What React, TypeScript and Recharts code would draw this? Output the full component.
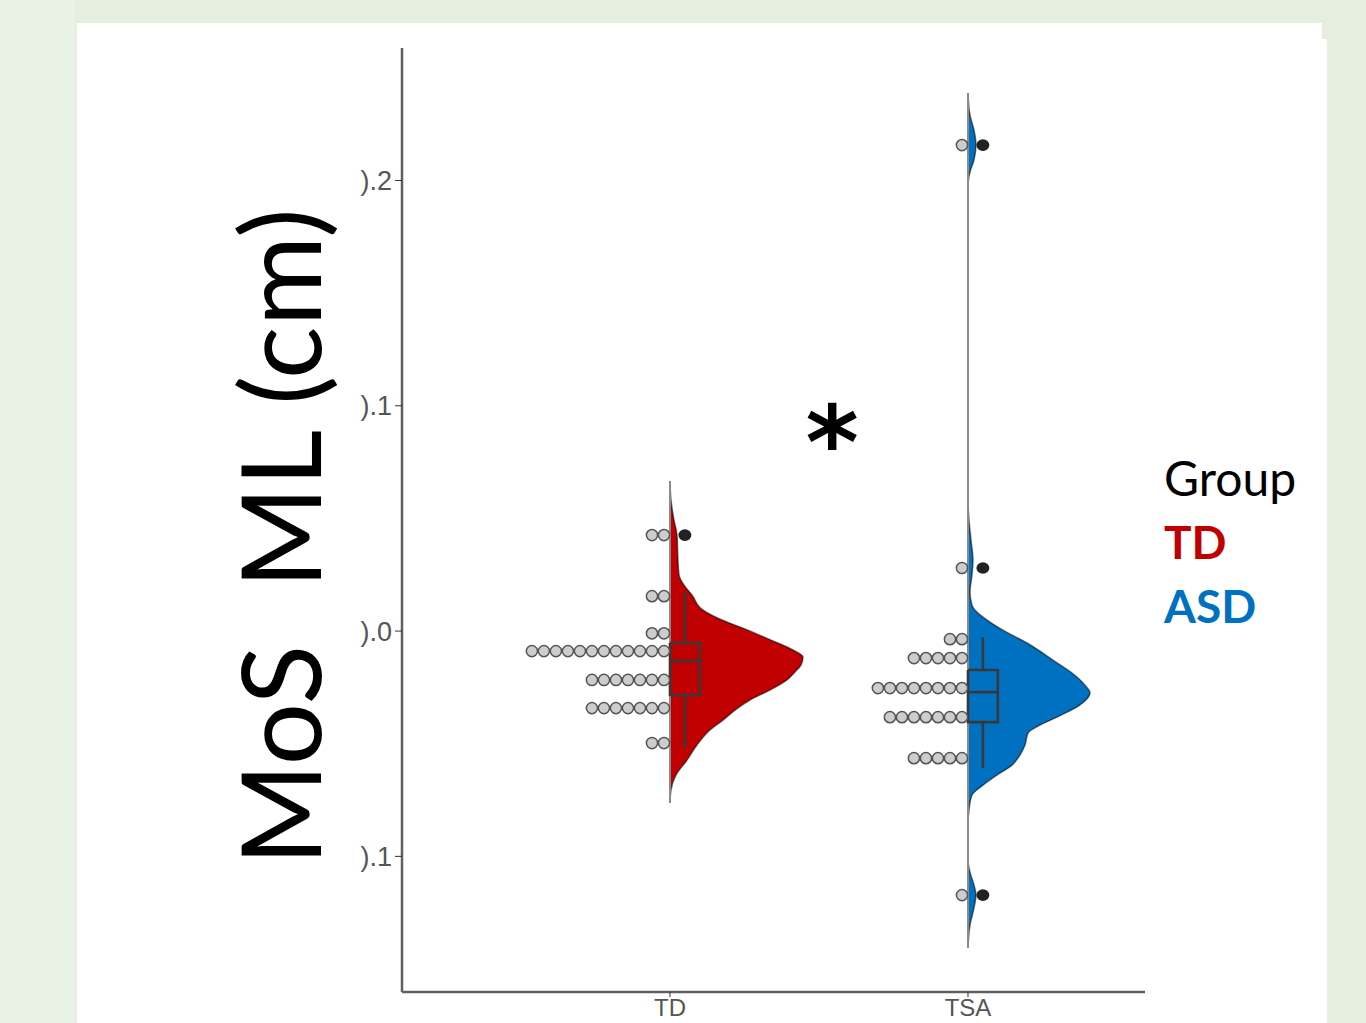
import React from "react";
import { ComposedChart, Scatter, XAxis, YAxis, Legend, ReferenceDot } from "recharts";

const GROUPS = ["TD", "TSA"];
const GROUP_POS = [1, 2];
const LEGEND_TITLE = "Group";
const LEGEND_LABELS = ["TD", "ASD"];
const COLORS = ["#c00000", "#0070c0"];

const Y_TICKS = [-0.1, 0, 0.1, 0.2];
const Y_TICK_LABELS = [").1", ").0", ").1", ").2"];

// half violins, read top to bottom; width is in x-axis units
const TD_VIOLIN_LEVELS = [
  0.0666, 0.0581, 0.0493, 0.0426, 0.0315, 0.0249, 0.0204, 0.016, 0.0093, 0.0049,
  0.0004, -0.004, -0.0084, -0.0115, -0.0151, -0.0182, -0.0217, -0.0262, -0.0306, -0.0351,
  -0.0395, -0.0439, -0.0506, -0.0573, -0.0639, -0.0706, -0.0763,
];
const TD_VIOLIN_WIDTH = [
  0, 0.0034, 0.0134, 0.0235, 0.0268, 0.0302, 0.047, 0.0738, 0.1107, 0.1745,
  0.2617, 0.3389, 0.4128, 0.4463, 0.4396, 0.4195, 0.3926, 0.3356, 0.2685, 0.2181,
  0.1779, 0.1342, 0.0906, 0.057, 0.0201, 0.0034, 0,
];
const TSA_VIOLIN_LEVELS = [
  0.2388, 0.229, 0.2224, 0.2157, 0.2091, 0.2037, 0.198,
  0.0581, 0.0493, 0.0404, 0.0315, 0.0249, 0.0173, 0.0115, 0.0084, 0.0049, 0.0004,
  -0.0053, -0.0129, -0.0186, -0.024, -0.0275, -0.0328, -0.0382, -0.0417, -0.0453, -0.0506,
  -0.055, -0.0595, -0.0639, -0.0684, -0.0728, -0.0794, -0.0861,
  -0.1016, -0.107, -0.1127, -0.1172, -0.1229, -0.1305, -0.1407,
];
const TSA_VIOLIN_WIDTH = [
  0, 0.0067, 0.0201, 0.0268, 0.0201, 0.0067, 0,
  0, 0.0034, 0.0101, 0.0168, 0.0134, 0.0067, 0.0134, 0.0302, 0.0638, 0.1174,
  0.198, 0.2852, 0.349, 0.3926, 0.4094, 0.3758, 0.2987, 0.2416, 0.2013, 0.1913,
  0.1745, 0.1477, 0.0973, 0.0503, 0.0134, 0.0034, 0,
  0, 0.0067, 0.0201, 0.0268, 0.0201, 0.0067, 0,
];

// dot plot bins
const TD_DOT_LEVELS = [0.0426, 0.0155, -0.001, -0.0089, -0.0217, -0.0342, -0.0497];
const TD_DOT_COUNTS = [2, 2, 2, 12, 7, 7, 2];
const TSA_DOT_LEVELS = [0.2157, 0.028, -0.0036, -0.012, -0.0253, -0.0382, -0.0564, -0.1172];
const TSA_DOT_COUNTS = [1, 1, 2, 5, 8, 7, 5, 1];

// [lower whisker, q1, median, q3, upper whisker]
const TD_BOX = [-0.0519, -0.0284, -0.0133, -0.0053, 0.0173];
const TSA_BOX = [-0.0608, -0.0404, -0.0271, -0.0173, -0.0027];
const TD_OUTLIERS = [0.0426];
const TSA_OUTLIERS = [0.2157, 0.028, -0.1172];

const BOX_W = 0.1;
const DOT_STEP = 0.0403;

const violinPts = (pos: number, levels: number[], widths: number[]) =>
  levels.map((y, i) => ({ x: pos + widths[i], y }));
const edgePts = (pos: number, levels: number[]) => [
  { x: pos, y: levels[0] },
  { x: pos, y: levels[levels.length - 1] },
];
const dotPts = (pos: number, levels: number[], counts: number[]) =>
  levels.flatMap((y, i) =>
    Array.from({ length: counts[i] }, (_, k) => ({ x: pos - (k + 0.5) * DOT_STEP, y }))
  );
const boxPts = (pos: number, b: number[]) => [
  { x: pos, y: b[3] },
  { x: pos + BOX_W, y: b[3] },
  { x: pos + BOX_W, y: b[1] },
  { x: pos, y: b[1] },
  { x: pos, y: b[3] },
];
const medianPts = (pos: number, b: number[]) => [
  { x: pos, y: b[2] },
  { x: pos + BOX_W, y: b[2] },
];
const upperWhisker = (pos: number, b: number[]) => [
  { x: pos + BOX_W / 2, y: b[4] },
  { x: pos + BOX_W / 2, y: b[3] },
];
const lowerWhisker = (pos: number, b: number[]) => [
  { x: pos + BOX_W / 2, y: b[1] },
  { x: pos + BOX_W / 2, y: b[0] },
];
const outlierPts = (pos: number, vals: number[]) => vals.map((y) => ({ x: pos + BOX_W / 2, y }));

const NoShape = () => <g />;
const DotShape = (p: any) => (
  <circle cx={p.cx} cy={p.cy} r={5.6} fill="#cdcdcd" stroke="#555" strokeWidth={1.5} />
);
const OutlierShape = (p: any) => (
  <ellipse cx={p.cx} cy={p.cy} rx={6.5} ry={5.8} fill="#222" />
);

const BOX_LINE = { stroke: "#383838", strokeWidth: 2.6 };
const EDGE_LINE = { stroke: "#8a8a8a", strokeWidth: 2 };
const TICK_FONT = { fill: "#555", fontSize: 27, fontFamily: "Liberation Sans, Arial, sans-serif" };
const X_TICK_FONT = { ...TICK_FONT, fontSize: 24 };

function GroupLegend() {
  return (
    <div style={{ fontFamily: "Lato, sans-serif" }}>
      <div style={{ fontSize: 48, lineHeight: "64px", color: "#000" }}>{LEGEND_TITLE}</div>
      {LEGEND_LABELS.map((l, i) => (
        <div key={l} style={{ fontSize: 46, lineHeight: "64px", fontWeight: 700, color: COLORS[i] }}>
          {l}
        </div>
      ))}
    </div>
  );
}

function YTitle() {
  return (
    <text
      x={321}
      y={537}
      transform="rotate(-90 321 537)"
      textAnchor="middle"
      fontFamily="Lato, sans-serif"
      fontSize={110}
      fill="#000"
      style={{ whiteSpace: "pre" }}
    >
      {"MoS  ML (cm)"}
    </text>
  );
}

const sets = [
  { pos: GROUP_POS[0], color: COLORS[0], levels: TD_VIOLIN_LEVELS, widths: TD_VIOLIN_WIDTH, dl: TD_DOT_LEVELS, dc: TD_DOT_COUNTS, box: TD_BOX, out: TD_OUTLIERS },
  { pos: GROUP_POS[1], color: COLORS[1], levels: TSA_VIOLIN_LEVELS, widths: TSA_VIOLIN_WIDTH, dl: TSA_DOT_LEVELS, dc: TSA_DOT_COUNTS, box: TSA_BOX, out: TSA_OUTLIERS },
];

export default function App() {
  return (
    <div style={{ position: "absolute", left: 0, top: 0, width: 1366, height: 1023, background: "#e6efdf", overflow: "hidden" }}>
      <div style={{ position: "absolute", left: 0, top: 0, width: 75, height: 1023, background: "#e9f3e5" }} />
      <div style={{ position: "absolute", left: 77, top: 23, width: 1245, height: 1000, background: "#fff" }} />
      <div style={{ position: "absolute", left: 1322, top: 39, width: 5, height: 984, background: "#fff" }} />
      <div style={{ position: "absolute", left: 0, top: 0 }}>
        <ComposedChart width={1366} height={1023} margin={{ top: 48, right: 221, bottom: 0, left: 0 }}>
          <XAxis
            type="number"
            dataKey="x"
            domain={[0.1007, 2.594]}
            allowDataOverflow
            ticks={GROUP_POS}
            tickFormatter={(v) => GROUPS[GROUP_POS.indexOf(v)] ?? ""}
            height={31}
            tickSize={5}
            tickMargin={2}
            tick={X_TICK_FONT}
            axisLine={{ stroke: "#606060", strokeWidth: 2.5 }}
            tickLine={{ stroke: "#333" }}
          />
          <YAxis
            type="number"
            dataKey="y"
            domain={[-0.1602, 0.2588]}
            allowDataOverflow
            ticks={Y_TICKS}
            tickFormatter={(v) => Y_TICK_LABELS[Y_TICKS.indexOf(v)] ?? ""}
            width={402}
            tickSize={7}
            tickMargin={3}
            tick={TICK_FONT}
            axisLine={{ stroke: "#606060", strokeWidth: 2.5 }}
            tickLine={{ stroke: "#333" }}
            label={{ content: () => <YTitle /> }}
          />
          {sets.map((s, i) => (
            <Scatter
              key={"v" + i}
              data={violinPts(s.pos, s.levels, s.widths)}
              shape={NoShape}
              line={{ fill: s.color, stroke: "rgba(0,0,0,0.55)", strokeWidth: 1.5 }}
              lineJointType="monotoneY"
              isAnimationActive={false}
            />
          ))}
          {sets.map((s, i) => (
            <Scatter key={"e" + i} data={edgePts(s.pos, s.levels)} shape={NoShape} line={EDGE_LINE} isAnimationActive={false} />
          ))}
          {sets.map((s, i) => (
            <Scatter key={"b" + i} data={boxPts(s.pos, s.box)} shape={NoShape} line={BOX_LINE} isAnimationActive={false} />
          ))}
          {sets.map((s, i) => (
            <Scatter key={"m" + i} data={medianPts(s.pos, s.box)} shape={NoShape} line={BOX_LINE} isAnimationActive={false} />
          ))}
          {sets.map((s, i) => (
            <Scatter key={"wu" + i} data={upperWhisker(s.pos, s.box)} shape={NoShape} line={BOX_LINE} isAnimationActive={false} />
          ))}
          {sets.map((s, i) => (
            <Scatter key={"wl" + i} data={lowerWhisker(s.pos, s.box)} shape={NoShape} line={BOX_LINE} isAnimationActive={false} />
          ))}
          {sets.map((s, i) => (
            <Scatter key={"o" + i} data={outlierPts(s.pos, s.out)} shape={OutlierShape} isAnimationActive={false} />
          ))}
          {sets.map((s, i) => (
            <Scatter key={"d" + i} data={dotPts(s.pos, s.dl, s.dc)} shape={DotShape} isAnimationActive={false} />
          ))}
          <ReferenceDot
            x={1.544}
            y={0.0838}
            r={0}
            fill="none"
            stroke="none"
            label={{ value: "*", position: "center", fontSize: 102, fontWeight: 700, fill: "#000", fontFamily: "DejaVu Sans, sans-serif" }}
          />
          <Legend
            verticalAlign="middle"
            layout="horizontal"
            content={() => <GroupLegend />}
            wrapperStyle={{ left: 1164, top: 446, width: 180 }}
          />
        </ComposedChart>
      </div>
    </div>
  );
}
